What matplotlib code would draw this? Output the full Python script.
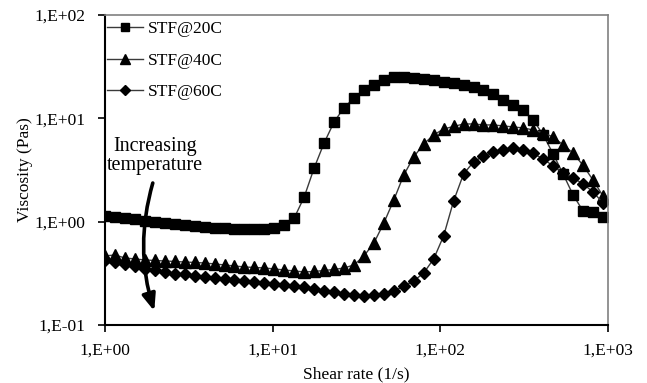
import matplotlib
matplotlib.use("Agg")
import matplotlib.pyplot as plt
import matplotlib.ticker as ticker
import numpy as np

# --- data ---
shear_rate = [1.00, 1.147, 1.315, 1.508, 1.728, 1.982, 2.272, 2.605, 2.987, 3.424,
              3.926, 4.502, 5.162, 5.918, 6.785, 7.780, 8.920, 10.23, 11.73, 13.45,
              15.42, 17.68, 20.27, 23.24, 26.65, 30.55, 35.03, 40.17, 46.05, 52.80,
              60.53, 69.41, 79.58, 91.25, 104.6, 120.0, 137.5, 157.7, 180.8, 207.3,
              237.7, 272.5, 312.5, 358.3, 410.8, 471.0, 540.1, 619.2, 710.0, 814.1,
              933.3]

visc_20 = [1.135, 1.11, 1.086, 1.05, 1.016, 0.993, 0.971, 0.950, 0.929, 0.909,
           0.889, 0.869, 0.860, 0.850, 0.841, 0.841, 0.850, 0.869, 0.929, 1.086,
           1.734, 3.31, 5.78, 9.22, 12.7, 15.7, 18.6, 21.0, 23.5, 25.1,
           25.4, 24.6, 24.0, 23.5, 22.7, 22.0, 21.0, 20.1, 18.8, 17.2,
           15.1, 13.5, 12.0, 9.65, 6.90, 4.52, 2.89, 1.81, 1.27, 1.23,
           1.11]

visc_40 = [0.466, 0.476, 0.445, 0.4355, 0.426, 0.421, 0.4166, 0.412, 0.407, 0.403,
           0.398, 0.3897, 0.381, 0.3726, 0.3644, 0.3604, 0.3564, 0.3485, 0.3407, 0.3333,
           0.326, 0.3296, 0.337, 0.3446, 0.3564, 0.381, 0.466, 0.622, 0.971, 1.622,
           2.83, 4.23, 5.65, 6.90, 7.89, 8.34, 8.82, 8.82, 8.63, 8.63,
           8.44, 8.25, 8.07, 7.72, 7.22, 6.60, 5.53, 4.62, 3.50, 2.53,
           1.77]

visc_60 = [0.426, 0.407, 0.3853, 0.3685, 0.3485, 0.337, 0.326, 0.315, 0.3083, 0.298,
           0.2915, 0.285, 0.279, 0.2728, 0.2668, 0.2609, 0.2551, 0.2495, 0.2440, 0.2386,
           0.2333, 0.2232, 0.2135, 0.2064, 0.1997, 0.1931, 0.1888, 0.1931, 0.1997, 0.2135,
           0.236, 0.2668, 0.3188, 0.4355, 0.727, 1.586, 2.89, 3.78, 4.32, 4.73,
           4.94, 5.11, 4.89, 4.57, 4.04, 3.46, 2.96, 2.65, 2.32, 1.94,
           1.52]

labels = ["STF@20C", "STF@40C", "STF@60C"]
y_ticks = [0.1, 1, 10, 100]
x_ticks = [1, 10, 100, 1000]

plt.rcParams['font.family'] = ['Liberation Serif', 'DejaVu Serif']
fs = 12.5

fig = plt.figure(figsize=(6.47, 3.83), dpi=100, facecolor='white')
ax = fig.add_axes([105 / 647, 58 / 383, 503 / 647, 310 / 383])

line_kw = dict(color='#3a3a3a', lw=1.0, markerfacecolor='black', markeredgecolor='black')
ax.plot(shear_rate, visc_20, marker='s', markersize=7, label=labels[0], **line_kw)
ax.plot(shear_rate, visc_40, marker='^', markersize=8, label=labels[1], **line_kw)
ax.plot(shear_rate, visc_60, marker='D', markersize=6, label=labels[2], **line_kw)

ax.set_xscale('log')
ax.set_yscale('log')
ax.set_xlim(1, 1000)
ax.set_ylim(0.1, 100)
ax.set_xticks(x_ticks)
ax.set_yticks(y_ticks)
ax.xaxis.set_minor_locator(ticker.NullLocator())
ax.yaxis.set_minor_locator(ticker.NullLocator())

fmt = ticker.FuncFormatter(lambda v, pos: "1,E%+03d" % int(round(np.log10(v))))
ax.xaxis.set_major_formatter(fmt)
ax.yaxis.set_major_formatter(fmt)
ax.tick_params(axis='both', which='major', direction='out', length=5, width=1.2,
               labelsize=fs, color='black')
ax.tick_params(axis='y', pad=9)
ax.tick_params(axis='x', pad=8)

for s in ['left', 'bottom']:
    ax.spines[s].set_color('black')
    ax.spines[s].set_linewidth(1.5)
for s in ['top', 'right']:
    ax.spines[s].set_color('#808080')
    ax.spines[s].set_linewidth(1.2)

ax.set_xlabel("Shear rate (1/s)", fontsize=fs, labelpad=5)
ax.set_ylabel("Viscosity (Pas)", fontsize=fs, labelpad=1)

leg = ax.legend(loc='upper left', bbox_to_anchor=(0.003, 0.98), frameon=False,
                fontsize=fs, handlelength=2.1, handletextpad=0.3, labelspacing=0.88,
                borderaxespad=0, borderpad=0, markerscale=0.85)

# annotation with curved arrow
ax.text(0.1, 0.545, "Increasing\ntemperature", transform=ax.transAxes, fontsize=14.5,
        ha='center', va='center', linespacing=0.95)
ax.annotate("", xy=(0.098, 0.045), xycoords='axes fraction',
            xytext=(0.095, 0.458), textcoords='axes fraction',
            arrowprops=dict(arrowstyle='-|>,head_length=1.0,head_width=0.4', color='black',
                            lw=2.6, connectionstyle='arc3,rad=0.15', shrinkA=0, shrinkB=0))

fig.savefig('out.png', dpi=100)
